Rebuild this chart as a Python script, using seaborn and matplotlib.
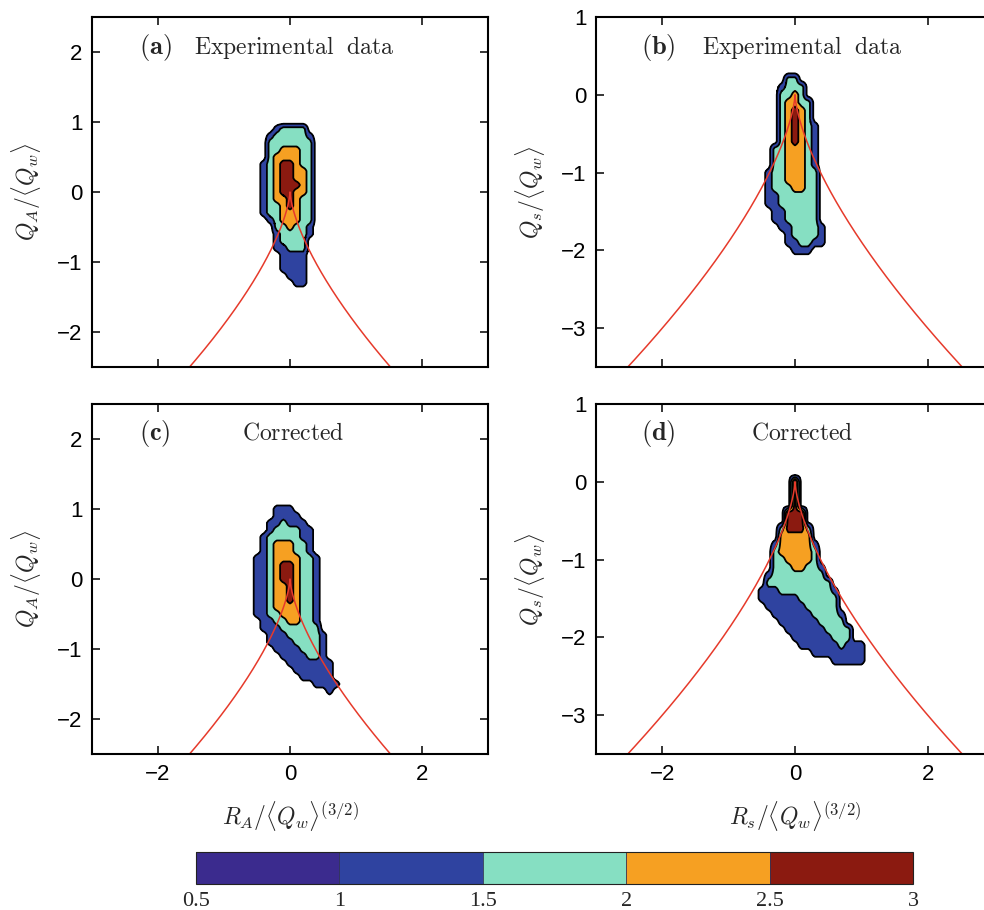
import numpy as np
import matplotlib
matplotlib.use("Agg")
import matplotlib.pyplot as plt
import seaborn as sns
from matplotlib.colors import ListedColormap, BoundaryNorm
from matplotlib.cm import ScalarMappable

# Colour bands of log10(PDF)
LEVELS = [0.5, 1.0, 1.5, 2.0, 2.5, 3.0]
LEVEL_COLORS = ["#3b2b8e", "#2f43a0", "#86dfc2", "#f6a022", "#8b1a10"]
CBAR_TICKS = [0.5, 1, 1.5, 2, 2.5, 3]

# Joint PDFs sampled on a 0.1 x 0.1 grid. Each character is the band index
# of one cell: 0 -> below 1, 1 -> [1, 1.5), 2 -> [1.5, 2), 3 -> [2, 2.5), 4 -> [2.5, 3).
# Rows run from the top Q value downwards, columns from the first R value rightwards.
GRID_STEP = 0.1

A_R0, A_Q0 = -0.6, 1.0
A_ROWS = [
    "000000000000",
    "000012222000",
    "000122222100",
    "000222222200",
    "000223332200",
    "000233332200",
    "001234432200",
    "001234433200",
    "001234433200",
    "001234443200",
    "001234433200",
    "001233432200",
    "001223432200",
    "001223332200",
    "000123332200",
    "000022322100",
    "000012222100",
    "000012222000",
    "000011222000",
    "000001111000",
    "000001111000",
    "000001111000",
    "000000111000",
    "000000011000",
    "000000000000",
]

B_R0, B_Q0 = -0.5, 0.4
B_ROWS = [
    "000000000000",
    "000000000000",
    "000022000000",
    "000122200000",
    "000223200000",
    "000233220000",
    "000234320000",
    "000234320000",
    "000234321000",
    "000234321000",
    "000234321000",
    "002233321000",
    "002233321000",
    "002233321000",
    "012233322000",
    "012233322000",
    "012223322000",
    "011222222000",
    "011222222000",
    "001122222000",
    "001122222000",
    "000112222100",
    "000012222100",
    "000011221100",
    "000001110000",
    "000000000000",
    "000000000000",
]

C_R0, C_Q0 = -0.7, 1.2
C_ROWS = [
    "0000000000000000",
    "0000000000000000",
    "0000011100000000",
    "0000011110000000",
    "0000112111000000",
    "0000122221100000",
    "0001222221100000",
    "0001233322100000",
    "0001233322100000",
    "0011233332210000",
    "0011234432210000",
    "0011234432210000",
    "0011234432210000",
    "0011233432210000",
    "0011233432210000",
    "0011233432210000",
    "0011233332210000",
    "0011223332210000",
    "0001122332210000",
    "0001112222220000",
    "0000111222221000",
    "0000111122221000",
    "0000011112221000",
    "0000001111221000",
    "0000000111111100",
    "0000000011111100",
    "0000000001111100",
    "0000000000011110",
    "0000000000000100",
    "0000000000000000",
]

D_R0, D_Q0 = -0.7, 0.1
D_ROWS = [
    "00000000000000000000",
    "00000004000000000000",
    "00000004000000000000",
    "00000004000000000000",
    "00000004000000000000",
    "00000044400000000000",
    "00000044400000000000",
    "00000244420000000000",
    "00000333330000000000",
    "00001333331000000000",
    "00002333332000000000",
    "00002233332000000000",
    "00002223322100000000",
    "00012222222200000000",
    "00022222222220000000",
    "00111222222221000000",
    "00111111222222000000",
    "00011111122222000000",
    "00001111112222100000",
    "00000111111222200000",
    "00000011111122220000",
    "00000001111112220000",
    "00000000111111211100",
    "00000000001111111100",
    "00000000000001111100",
    "00000000000000000000",
]

PANEL_TAGS = ["(a)", "(b)", "(c)", "(d)"]
PANEL_TITLES = ["Experimental\\ \\ data", "Experimental\\ \\ data", "Corrected", "Corrected"]
Y_LABELS = [r"$Q_A/\langle Q_w\rangle$", r"$Q_s/\langle Q_w\rangle$",
            r"$Q_A/\langle Q_w\rangle$", r"$Q_s/\langle Q_w\rangle$"]
X_LABELS = [None, None, r"$R_A/\langle Q_w\rangle^{(3/2)}$", r"$R_s/\langle Q_w\rangle^{(3/2)}$"]
Y_LIMITS = [(-2.5, 2.5), (-3.5, 1.0), (-2.5, 2.5), (-3.5, 1.0)]
Y_TICKS = [[-2, -1, 0, 1, 2], [-3, -2, -1, 0, 1], [-2, -1, 0, 1, 2], [-3, -2, -1, 0, 1]]
X_TICKS = [-2, 0, 2]

sns.set_theme(style="ticks")
plt.rcParams["font.family"] = ["Liberation Sans", "DejaVu Sans"]
plt.rcParams["mathtext.fontset"] = "cm"
plt.rcParams["axes.unicode_minus"] = True


def band_field(rows, r0, q0, refine=6):
    """Turn band indices into a scalar field sitting mid-band in every cell,
    then refine it bilinearly so the band edges come out rounded."""
    idx = np.array([[int(ch) for ch in row] for row in rows], dtype=float)
    z = 0.75 + 0.5 * idx
    r = r0 + GRID_STEP * np.arange(idx.shape[1])
    q = q0 - GRID_STEP * np.arange(idx.shape[0])
    rf = np.linspace(r[0], r[-1], (len(r) - 1) * refine + 1)
    qf = np.linspace(q[0], q[-1], (len(q) - 1) * refine + 1)
    zr = np.array([np.interp(rf, r, row) for row in z])
    zf = np.array([np.interp(-qf, -q, col) for col in zr.T]).T
    return rf, qf, zf


def vieillefosse(r):
    # zero-discriminant line 27/4 R^2 + Q^3 = 0
    return -np.cbrt(27.0 / 4.0 * r ** 2)


fig = plt.figure(figsize=(9.84, 9.10), dpi=100)
W, H = 984.0, 910.0
boxes = [(92, 17, 396, 350), (596, 17, 398, 350), (92, 404, 396, 350), (596, 404, 398, 350)]
fields = [(A_ROWS, A_R0, A_Q0), (B_ROWS, B_R0, B_Q0), (C_ROWS, C_R0, C_Q0), (D_ROWS, D_R0, D_Q0)]
tag_x = [0.118, 0.113, 0.118, 0.113]
title_x = [0.258, 0.266, 0.379, 0.389]
tag_y = [0.914, 0.914, 0.917, 0.917]

r_line = np.linspace(-3.0, 3.0, 1201)

for i, (x0, y0, w, h) in enumerate(boxes):
    ax = fig.add_axes([x0 / W, 1 - (y0 + h) / H, w / W, h / H])
    r, q, z = band_field(*fields[i])
    ax.contourf(r, q, z, levels=LEVELS[1:], colors=LEVEL_COLORS[1:])
    ax.contour(r, q, z, levels=LEVELS[1:-1], colors="black", linewidths=1.3)
    sns.lineplot(x=r_line, y=vieillefosse(r_line), ax=ax, color="#e63a2b",
                 linewidth=1.1, estimator=None, sort=False, legend=False)

    ax.set_xlim(-3, 3)
    ax.set_ylim(*Y_LIMITS[i])
    ax.set_xticks(X_TICKS)
    ax.set_yticks(Y_TICKS[i])
    ax.tick_params(direction="in", top=True, right=True, length=6, width=1.1,
                   labelsize=16, pad=7, colors="black")
    for sp in ax.spines.values():
        sp.set_linewidth(1.5)
        sp.set_color("black")
    if X_LABELS[i] is None:
        ax.tick_params(labelbottom=False)
    else:
        ax.set_xlabel(X_LABELS[i], fontsize=17, labelpad=10)
    ax.set_ylabel(Y_LABELS[i], fontsize=17, labelpad=10)

    ax.text(tag_x[i], tag_y[i], r"$\mathbf{" + PANEL_TAGS[i] + "}$", transform=ax.transAxes,
            fontsize=19, ha="left", va="center")
    ax.text(title_x[i], tag_y[i], r"$\mathrm{" + PANEL_TITLES[i] + "}$", transform=ax.transAxes,
            fontsize=17, ha="left", va="center")

cax = fig.add_axes([196 / W, 1 - 884 / H, 717 / W, 32 / H])
cmap = ListedColormap(LEVEL_COLORS)
norm = BoundaryNorm(LEVELS, cmap.N)
cb = fig.colorbar(ScalarMappable(norm=norm, cmap=cmap), cax=cax, orientation="horizontal",
                  ticks=CBAR_TICKS, drawedges=True)
cb.outline.set_linewidth(0.8)
cb.outline.set_edgecolor("#222222")
cb.dividers.set_color("#333355")
cb.dividers.set_linewidth(0.6)
cax.tick_params(length=0, pad=6)
cax.set_xticklabels(["0.5", "1", "1.5", "2", "2.5", "3"], family="Liberation Serif", fontsize=16)

fig.savefig("out.png", dpi=100)
